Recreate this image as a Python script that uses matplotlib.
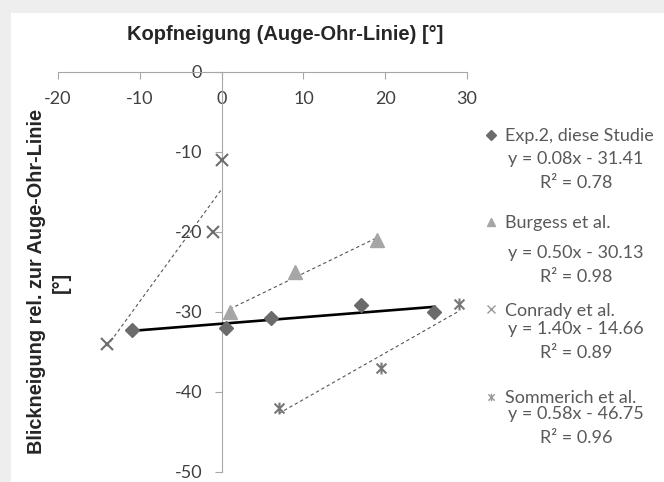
import numpy as np
import matplotlib
matplotlib.use("Agg")
import matplotlib.pyplot as plt
from matplotlib.path import Path
from matplotlib.patches import Rectangle

plt.rcParams['axes.unicode_minus'] = False

W, H = 664, 482

# Daten
exp2_x = [-11, 0.5, 6, 17, 26]
exp2_y = [-32.3, -32.0, -30.8, -29.1, -30.0]
burgess_x = [1, 9, 19]
burgess_y = [-30.0, -25.0, -21.0]
conrady_x = [0, -1, -14]
conrady_y = [-11.0, -20.0, -34.0]
sommerich_x = [7, 19.5, 29]
sommerich_y = [-42.0, -37.0, -29.0]

names = ["Exp.2, diese Studie", "Burgess et al.", "Conrady et al.", "Sommerich et al."]
equations = ["y = 0.08x - 31.41", "y = 0.50x - 30.13", "y = 1.40x - 14.66", "y = 0.58x - 46.75"]
r2_labels = ["R² = 0.78", "R² = 0.98", "R² = 0.89", "R² = 0.96"]

x_ticks = [-20, -10, 0, 10, 20, 30]
y_ticks = [0, -10, -20, -30, -40, -50]


def fx(px):
    return px / W


def fy(py):
    return 1 - py / H


# Excel-Stern: x mit senkrechtem Strich
star = Path([(-1, -1), (1, 1), (-1, 1), (1, -1), (0, -1.2), (0, 1.2)],
            [Path.MOVETO, Path.LINETO, Path.MOVETO, Path.LINETO, Path.MOVETO, Path.LINETO])

fig = plt.figure(figsize=(W / 100, H / 100), dpi=100)
fig.patch.set_facecolor("#eeeeee")
fig.patches.append(Rectangle((fx(11), 0), 1 - fx(11), fy(13), transform=fig.transFigure,
                             facecolor="white", edgecolor="none", zorder=-5))

ax = fig.add_axes([fx(58), fy(472), fx(467) - fx(58), fy(72) - fy(472)])
ax.set_facecolor("none")
ax.set_zorder(2)
ax.set_xlim(-20, 30)
ax.set_ylim(-50, 0)

axis_col = "#a6a6a6"
for s in ["top", "right"]:
    ax.spines[s].set_visible(False)
ax.spines["bottom"].set_position(("data", 0))
ax.spines["left"].set_position(("data", 0))
ax.spines["bottom"].set_color(axis_col)
ax.spines["left"].set_color(axis_col)
ax.set_xticks(x_ticks)
ax.set_yticks(y_ticks)
ax.tick_params(axis="both", direction="out", length=5, width=0.8, color=axis_col,
               labelsize=13, labelcolor="#404040", pad=9)
for lab in ax.get_xticklabels() + ax.get_yticklabels():
    lab.set_family("Lato")

# Messpunkte
p1, = ax.plot(exp2_x, exp2_y, ls="none", marker="D", ms=7.2, color="#6b6b6b", zorder=4)
p2, = ax.plot(burgess_x, burgess_y, ls="none", marker="^", ms=9.5, color="#a6a6a6", zorder=4)
p3, = ax.plot(conrady_x, conrady_y, ls="none", marker="x", ms=8, mew=1.5, color="#6e6e6e", zorder=4)
p4, = ax.plot(sommerich_x, sommerich_y, ls="none", marker=star, ms=8.5, mew=1.5, color="#777777", zorder=4)

# Trendlinien (linear)
series = [(exp2_x, exp2_y), (burgess_x, burgess_y), (conrady_x, conrady_y), (sommerich_x, sommerich_y)]
for i, (xs, ys) in enumerate(series):
    k, d = np.polyfit(xs, ys, 1)
    xx = np.array([min(xs), max(xs)])
    if i == 0:
        ax.plot(xx, k * xx + d, color="black", lw=1.9, zorder=3)
    else:
        ax.plot(xx, k * xx + d, color="#555555", lw=0.8, dashes=(3, 2.5), zorder=3)

# Achsentitel
fig.text(fx(285), fy(35), "Kopfneigung (Auge-Ohr-Linie) [°]", family="Liberation Sans",
         weight="bold", fontsize=14.5, color="#262626", ha="center", va="center")
fig.text(fx(49), fy(282), "Blickneigung rel. zur Auge-Ohr-Linie\n[°]", family="Liberation Sans",
         weight="bold", fontsize=14.3, color="#262626", ha="center", va="center",
         rotation=90, linespacing=1.35, multialignment="center")

# Legende
leg = fig.legend([p1, p2, p3, p4], names, loc="upper left",
                 bbox_to_anchor=(fx(484), fy(128)), bbox_transform=fig.transFigure,
                 frameon=False, handlelength=0.8, handletextpad=0.35, borderpad=0,
                 borderaxespad=0, labelspacing=3.95, markerscale=0.65,
                 prop={"family": "Lato", "size": 13})
for t in leg.get_texts():
    t.set_color("#595959")
for h in leg.legend_handles[2:]:
    h.set_color("#9a9a9a")
    h.set_markeredgewidth(1.0)

eq_rows = [159, 253, 329, 414]
r2_rows = [183, 277, 353, 438]
for eq, r2, ye, yr in zip(equations, r2_labels, eq_rows, r2_rows):
    fig.text(fx(576), fy(ye), eq, family="Lato", fontsize=13, color="#595959", ha="center", va="center")
    fig.text(fx(576), fy(yr), r2, family="Lato", fontsize=13, color="#595959", ha="center", va="center")

fig.savefig("out.png", dpi=100)
